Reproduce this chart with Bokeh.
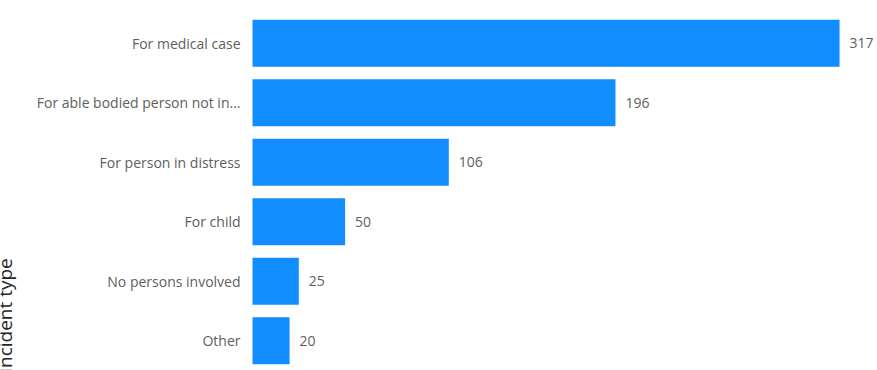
from bokeh.plotting import figure
from bokeh.models import ColumnDataSource, FactorRange, Range1d, Label
from bokeh.core.properties import value
from bokeh.embed import file_html
from bokeh.resources import INLINE

categories = ["For medical case", "For able bodied person not in...", "For person in distress",
              "For child", "No persons involved", "Other"]
counts = [317, 196, 106, 50, 25, 20]
axis_title = "Incident type"

cats_bottom_up = list(reversed(categories))
src = ColumnDataSource(dict(cat=categories, val=counts, lab=[str(v) for v in counts],
                            zero=[0] * len(counts)))

p = figure(width=877, height=370, output_backend="svg", toolbar_location=None,
           y_range=FactorRange(factors=cats_bottom_up, range_padding=0),
           x_range=Range1d(-136.1, 337.5),
           min_border=0, min_border_top=13)

p.hbar(y="cat", right="val", left=0, height=0.79, source=src,
       fill_color="#118DFF", line_color=None)
p.text(x="val", y="cat", text="lab", source=src, x_offset=10,
       text_baseline="middle", text_align="left",
       text_font=value("Open Sans"), text_font_size="14px", text_color="#605E5C")
# category labels (axis tick labels)
p.text(x="zero", y="cat", text="cat", source=src, x_offset=-12,
       text_baseline="middle", text_align="right",
       text_font=value("Open Sans"), text_font_size="14px", text_color="#605E5C")

p.xaxis.visible = False
p.yaxis.visible = False
p.xgrid.visible = False
p.ygrid.visible = False
p.outline_line_color = None

p.add_layout(Label(x=4, y=1.887, x_units="screen", y_units="data", text=axis_title,
                   angle=1.5708, text_align="right", text_baseline="alphabetic",
                   text_font="Open Sans", text_font_size="19px", text_color="#252423"))

open("out.html", "w").write(file_html(p, INLINE))
